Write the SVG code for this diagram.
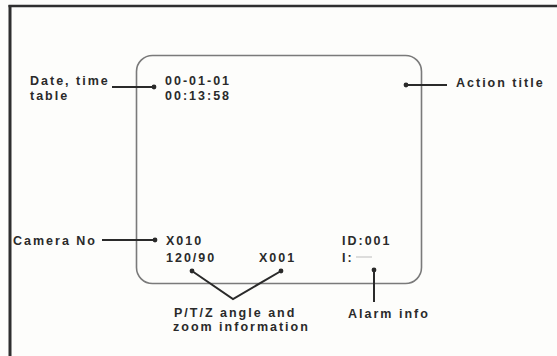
<svg xmlns="http://www.w3.org/2000/svg" width="557" height="356" viewBox="0 0 557 356">
<defs>
<style>
.t{font-family:"Liberation Sans",Arial,sans-serif;font-weight:bold;font-size:12.5px;letter-spacing:2px;fill:#2a2a2a}
.c{stroke:#2a2a2a;stroke-width:2;fill:none}
.d{fill:#2a2a2a}
</style>
</defs>
<rect x="0" y="0" width="557" height="356" fill="#fdfdfb"/>
<g id="frame">
<line x1="8.5" y1="6" x2="557" y2="6" stroke="#2f2f2f" stroke-width="2.5"/>
<line x1="10" y1="5" x2="10" y2="356" stroke="#2f2f2f" stroke-width="3"/>
</g>
<g id="screen">
<rect x="136.5" y="55.5" width="285" height="228" rx="16" ry="16" fill="none" stroke="#7a7a7a" stroke-width="1.6"/>
</g>
<g id="date-label"><text class="t" x="30" y="85">Date, time</text><text class="t" x="30" y="100">table</text></g>
<g id="date-value"><text class="t" x="165" y="85">00-01-01</text><text class="t" x="165" y="100">00:13:58</text></g>
<g id="action-title"><text class="t" x="456" y="87">Action title</text></g>
<g id="camera-label"><text class="t" x="13" y="245">Camera No</text></g>
<g id="camera-value"><text class="t" x="166" y="245">X010</text></g>
<g id="ptz-angle"><text class="t" x="166" y="262">120/90</text></g>
<g id="ptz-zoom"><text class="t" x="259" y="262">X001</text></g>
<g id="alarm-id"><text class="t" x="342" y="245">ID:001</text><text class="t" x="342" y="262">I:</text><line x1="356" y1="257" x2="372" y2="257" stroke="#c8c8c8" stroke-width="1.2"/></g>
<g id="ptz-label"><text class="t" x="174" y="317">P/T/Z angle and</text><text class="t" x="173" y="331">zoom information</text></g>
<g id="alarm-label"><text class="t" x="348" y="318">Alarm info</text></g>
<g id="connectors">
<line class="c" x1="112" y1="87" x2="154" y2="87"/><circle class="d" cx="154" cy="87" r="2.4"/>
<line class="c" x1="406" y1="85" x2="447" y2="85"/><circle class="d" cx="406" cy="85" r="2.4"/>
<line class="c" x1="102" y1="240" x2="155" y2="240"/><circle class="d" cx="155" cy="240" r="2.4"/>
<polyline class="c" points="192,271 233,299 281,271"/><circle class="d" cx="192" cy="271" r="2.4"/><circle class="d" cx="281" cy="271" r="2.4"/>
<line class="c" x1="374" y1="270" x2="374" y2="302"/><circle class="d" cx="374" cy="270" r="2.4"/>
</g>
</svg>
